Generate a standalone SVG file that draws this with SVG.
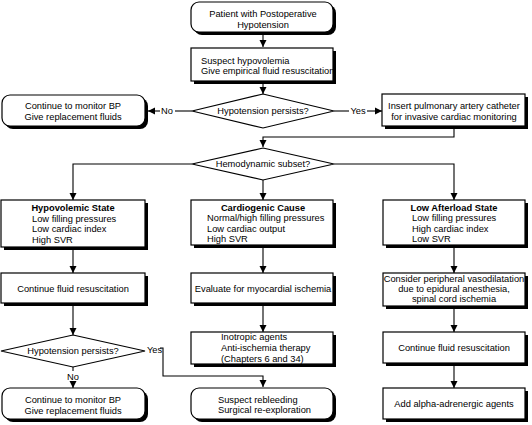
<svg xmlns="http://www.w3.org/2000/svg" width="532" height="425" viewBox="0 0 532 425">
<style>
.b{fill:#fff;stroke:#000;stroke-width:1.2}
.s{fill:#000}
.c{fill:none;stroke:#000;stroke-width:1.1}
text{font-family:"Liberation Sans",Arial,sans-serif;font-size:9.3px;fill:#000}
.m{text-anchor:middle}
.t{font-weight:bold;text-anchor:middle}
</style>
<defs>
<marker id="ah" markerUnits="userSpaceOnUse" markerWidth="8" markerHeight="8" refX="7" refY="4" orient="auto"><path d="M0,0.5 L7,4 L0,7.5 Z" fill="#000"/></marker>
</defs>
<rect width="532" height="425" fill="#fff"/>

<g id="connectors">
<line class="c" x1="263" y1="34" x2="263" y2="47" marker-end="url(#ah)"/>
<line class="c" x1="263" y1="84" x2="263" y2="94" marker-end="url(#ah)"/>
<line class="c" x1="192" y1="111" x2="175" y2="111"/>
<line class="c" x1="160" y1="111" x2="148" y2="111" marker-end="url(#ah)"/>
<line class="c" x1="334" y1="111" x2="349" y2="111"/>
<line class="c" x1="367" y1="111" x2="382" y2="111" marker-end="url(#ah)"/>
<polyline class="c" points="454,129 454,137 263,137 263,147" marker-end="url(#ah)"/>
<polyline class="c" points="192,164 73,164 73,200" marker-end="url(#ah)"/>
<polyline class="c" points="334,164 454,164 454,200" marker-end="url(#ah)"/>
<line class="c" x1="263" y1="180" x2="263" y2="200" marker-end="url(#ah)"/>
<line class="c" x1="73" y1="250" x2="73" y2="273" marker-end="url(#ah)"/>
<line class="c" x1="263" y1="248" x2="263" y2="273" marker-end="url(#ah)"/>
<line class="c" x1="454" y1="248" x2="454" y2="273" marker-end="url(#ah)"/>
<line class="c" x1="73" y1="306" x2="73" y2="335" marker-end="url(#ah)"/>
<line class="c" x1="263" y1="306" x2="263" y2="332" marker-end="url(#ah)"/>
<line class="c" x1="454" y1="309" x2="454" y2="332" marker-end="url(#ah)"/>
<line class="c" x1="454" y1="366" x2="454" y2="388" marker-end="url(#ah)"/>
<line class="c" x1="73" y1="367" x2="73" y2="371"/>
<line class="c" x1="73" y1="382" x2="73" y2="388" marker-end="url(#ah)"/>
<polyline class="c" points="160,348 163,348 163,376 263,376 263,387" marker-end="url(#ah)"/>
<text class="m" x="167" y="114">No</text>
<text class="m" x="358" y="114">Yes</text>
<text x="147" y="353">Yes</text>
<text class="m" x="73" y="380">No</text>
</g>

<g id="start">
<rect class="s" x="194" y="5" width="142" height="30" rx="8"/>
<rect class="b" x="191" y="2" width="142" height="30" rx="8"/>
<text class="m" x="263" y="16.5">Patient with Postoperative</text>
<text class="m" x="263" y="27.5">Hypotension</text>
</g>

<g id="suspect">
<rect class="s" x="194" y="51" width="142" height="33"/>
<rect class="b" x="191" y="48" width="142" height="33"/>
<text x="201" y="63.5">Suspect hypovolemia</text>
<text x="201" y="74">Give empirical fluid resuscitation</text>
</g>

<g id="decision1">
<path class="b" d="M263,94 L334,111 L263,128 L192,111 Z"/>
<text class="m" x="263" y="114">Hypotension persists?</text>
</g>

<g id="monitor1">
<rect class="s" x="5" y="98" width="143" height="31" rx="8"/>
<rect class="b" x="2" y="95" width="143" height="31" rx="8"/>
<text class="m" x="73" y="109">Continue to monitor BP</text>
<text class="m" x="73" y="120">Give replacement fluids</text>
</g>

<g id="catheter">
<rect class="s" x="385" y="97" width="143" height="32"/>
<rect class="b" x="382" y="94" width="143" height="32"/>
<text class="m" x="454" y="109">Insert pulmonary artery catheter</text>
<text class="m" x="454" y="120">for invasive cardiac monitoring</text>
</g>

<g id="decision2">
<path class="b" d="M263,148 L334,164 L263,180 L192,164 Z"/>
<text class="m" x="263" y="167">Hemodynamic subset?</text>
</g>

<g id="hypovolemic">
<rect class="s" x="4" y="203" width="144" height="47"/>
<rect class="b" x="1" y="200" width="144" height="47"/>
<text class="t" x="73" y="211">Hypovolemic State</text>
<text x="32" y="221.5">Low filling pressures</text>
<text x="32" y="232">Low cardiac index</text>
<text x="32" y="242.5">High SVR</text>
</g>

<g id="cardiogenic">
<rect class="s" x="194" y="203" width="142" height="45"/>
<rect class="b" x="191" y="200" width="142" height="45"/>
<text class="t" x="263" y="211">Cardiogenic Cause</text>
<text x="207" y="221">Normal/high filling pressures</text>
<text x="207" y="231.5">Low cardiac output</text>
<text x="207" y="242">High SVR</text>
</g>

<g id="afterload">
<rect class="s" x="386" y="203" width="142" height="45"/>
<rect class="b" x="383" y="200" width="142" height="45"/>
<text class="t" x="454" y="211">Low Afterload State</text>
<text x="412" y="221">Low filling pressures</text>
<text x="412" y="231.5">High cardiac index</text>
<text x="412" y="242">Low SVR</text>
</g>

<g id="fluid1">
<rect class="s" x="4" y="276" width="144" height="30"/>
<rect class="b" x="1" y="273" width="144" height="30"/>
<text class="m" x="73" y="292">Continue fluid resuscitation</text>
</g>

<g id="evaluate">
<rect class="s" x="194" y="276" width="142" height="30"/>
<rect class="b" x="191" y="273" width="142" height="30"/>
<text class="m" x="263" y="292">Evaluate for myocardial ischemia</text>
</g>

<g id="vasodilatation">
<rect class="s" x="386" y="276" width="142" height="33"/>
<rect class="b" x="383" y="273" width="142" height="33"/>
<text class="m" x="454" y="281.5">Consider peripheral vasodilatation</text>
<text class="m" x="454" y="292">due to epidural anesthesia,</text>
<text class="m" x="454" y="302">spinal cord ischemia</text>
</g>

<g id="decision3">
<path class="b" d="M73,335 L145,351 L73,367 L1,351 Z"/>
<text class="m" x="73" y="354">Hypotension persists?</text>
</g>

<g id="inotropic">
<rect class="s" x="194" y="335" width="142" height="32"/>
<rect class="b" x="191" y="332" width="142" height="32"/>
<text x="221" y="339.5">Inotropic agents</text>
<text x="221" y="350.5">Anti-ischemia therapy</text>
<text x="221" y="361.5">(Chapters 6 and 34)</text>
</g>

<g id="fluid2">
<rect class="s" x="386" y="335" width="142" height="31"/>
<rect class="b" x="383" y="332" width="142" height="31"/>
<text class="m" x="454" y="351">Continue fluid resuscitation</text>
</g>

<g id="monitor2">
<rect class="s" x="5" y="391" width="143" height="31" rx="8"/>
<rect class="b" x="2" y="388" width="143" height="31" rx="8"/>
<text class="m" x="73" y="403">Continue to monitor BP</text>
<text class="m" x="73" y="414">Give replacement fluids</text>
</g>

<g id="rebleeding">
<rect class="s" x="194" y="391" width="142" height="31" rx="8"/>
<rect class="b" x="191" y="388" width="142" height="31" rx="8"/>
<text x="218" y="402.5">Suspect rebleeding</text>
<text x="218" y="413">Surgical re-exploration</text>
</g>

<g id="alpha">
<rect class="s" x="386" y="391" width="142" height="31"/>
<rect class="b" x="383" y="388" width="142" height="31"/>
<text class="m" x="454" y="407">Add alpha-adrenergic agents</text>
</g>
</svg>
